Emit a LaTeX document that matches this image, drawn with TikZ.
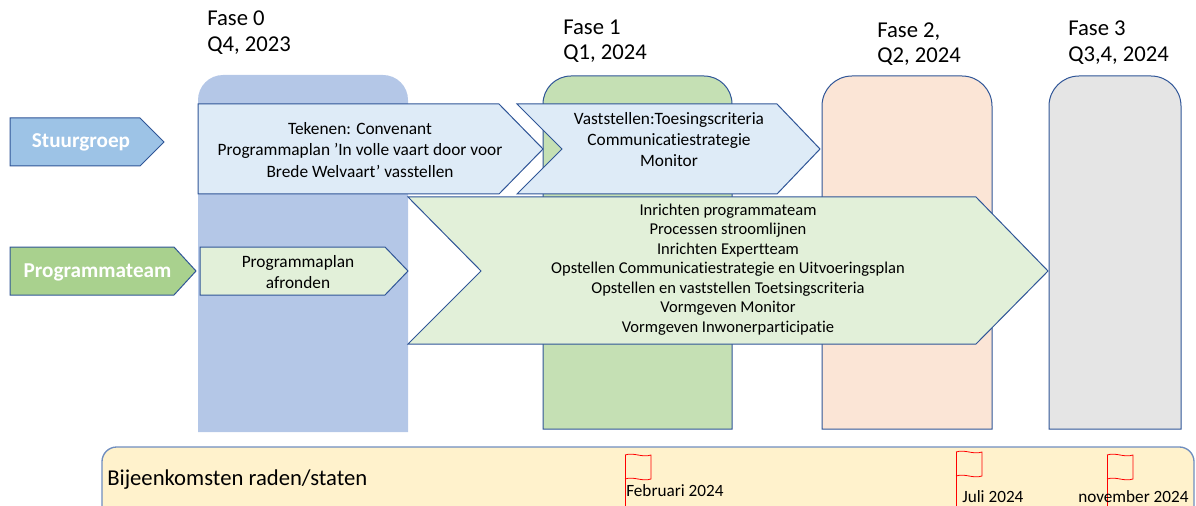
\documentclass[tikz,border=0pt]{standalone}
\usepackage{fontspec}
\setmainfont{Carlito}[Ligatures=NoCommon]
\definecolor{colzero}{HTML}{B4C7E7}
\definecolor{colone}{HTML}{C5E0B4}
\definecolor{coltwo}{HTML}{FBE5D6}
\definecolor{colthree}{HTML}{E5E5E5}
\definecolor{edgeblue}{HTML}{2F5597}
\definecolor{stuurfill}{HTML}{9DC3E6}
\definecolor{lightblue}{HTML}{DEEBF7}
\definecolor{progfill}{HTML}{A9D18E}
\definecolor{lightgreen}{HTML}{E2F0D9}
\definecolor{botfill}{HTML}{FFF2CC}
\definecolor{botedge}{HTML}{6F8DBF}
\definecolor{flagred}{HTML}{FF0000}
\begin{document}
\begin{tikzpicture}[x=0.75pt,y=-0.75pt,
  shapeline/.style={draw=edgeblue,line width=0.75pt,line join=miter},
  title/.style={font=\fontsize{17}{20}\selectfont,anchor=base west,inner sep=0pt},
  headlbl/.style={font=\fontsize{15.9}{18}\selectfont\bfseries,text=white,inner sep=0pt},
  midtxt/.style={font=\fontsize{13}{15.9}\selectfont,align=center,inner sep=0pt},
  bigtxt/.style={font=\fontsize{12.4}{14.6}\selectfont,align=center,inner sep=0pt},
  flagtxt/.style={font=\fontsize{12.9}{15}\selectfont,anchor=base west,inner sep=0pt},
  flagline/.style={draw=flagred,line width=0.6pt},
  redflag/.pic={
    \draw[flagline] (0,0) .. controls (9,-3) and (17,3) .. (26,0) -- (26,24)
       .. controls (17,27) and (9,21) .. (0,24);
    \draw[flagline] (0,0) -- (0,80);
  }]
\useasboundingbox (0,0) rectangle (1196,506);
\clip (0,0) rectangle (1196,506);

% phase columns
\fill[colzero] (198,432) -- (198,100) arc[start angle=180,end angle=270,radius=25]
  -- (383,75) arc[start angle=270,end angle=360,radius=25] -- (408,432) -- cycle;
\filldraw[shapeline,fill=colone] (543,429) -- (543,104) arc[start angle=180,end angle=270,radius=28]
  -- (704,76) arc[start angle=270,end angle=360,radius=28] -- (732,429) -- cycle;
\filldraw[shapeline,fill=coltwo] (822,429) -- (822,106) arc[start angle=180,end angle=270,radius=30]
  -- (962,76) arc[start angle=270,end angle=360,radius=30] -- (992,429) -- cycle;
\filldraw[shapeline,fill=colthree] (1049,429) -- (1049,106) arc[start angle=180,end angle=270,radius=30]
  -- (1151,76) arc[start angle=270,end angle=360,radius=30] -- (1181,429) -- cycle;

% phase titles
\node[title] (f0a) at (207,26) {Fase 0};
\node[title] (f0b) at (207,52) {Q4, 2023};
\node[title] (f1a) at (563,34.5) {Fase 1};
\node[title] (f1b) at (563,60) {Q1, 2024};
\node[title] (f2a) at (877,38) {Fase 2,};
\node[title] (f2b) at (877,63) {Q2, 2024};
\node[title] (f3a) at (1068,36) {Fase 3};
\node[title] (f3b) at (1068,62) {Q3,4, 2024};

% Stuurgroep row
\filldraw[shapeline,fill=stuurfill] (10,118) -- (140,118) -- (164,142) -- (140,166) -- (10,166) -- cycle;
\node[headlbl] (stuur) at (81,142) {Stuurgroep};
\filldraw[shapeline,fill=lightblue] (198,104) -- (499,104) -- (543,149) -- (499,194) -- (198,194) -- cycle;
\node[midtxt] (tek) at (360,150) {Tekenen: Convenant\\Programmaplan ’In volle vaart door voor\\Brede Welvaart’ vasstellen};
\filldraw[shapeline,fill=lightblue] (517,104) -- (777,104) -- (820,149) -- (777,194) -- (517,194) -- (562,149) -- cycle;
\node[midtxt] (vast) at (669,139.5) {Vaststellen:Toesingscriteria\\Communicatiestrategie\\Monitor};

% Programmateam row
\filldraw[shapeline,fill=progfill] (10,247) -- (174,247) -- (196,271) -- (174,295) -- (10,295) -- cycle;
\node[headlbl] (prog) at (97.5,272) {Programmateam};
\filldraw[shapeline,fill=lightgreen] (200,247) -- (385,247) -- (408,271) -- (385,295) -- (200,295) -- cycle;
\node[midtxt] (afr) at (298,272) {Programmaplan\\afronden};
\filldraw[shapeline,fill=lightgreen] (408,197) -- (976,197) -- (1048,271) -- (976,344) -- (408,344) -- (481,271) -- cycle;
\node[bigtxt] (acts) at (728,269.5) {Inrichten programmateam\\Processen stroomlijnen\\Inrichten Expertteam\\Opstellen Communicatiestrategie en Uitvoeringsplan\\Opstellen en vaststellen Toetsingscriteria\\Vormgeven Monitor\\Vormgeven Inwonerparticipatie};

% bottom band
\filldraw[draw=botedge,line width=1pt,fill=botfill,rounded corners=11pt] (102,447) rectangle (1194,540);
\node[title] (bij) at (107,485) {Bijeenkomsten raden/staten};

% flags
\pic at (625,455) {redflag};
\pic at (956,452) {redflag};
\pic at (1107,455) {redflag};
\node[flagtxt] (feb) at (626,496) {Februari 2024};
\node[flagtxt] (jul) at (962,502) {Juli 2024};
\node[flagtxt] (nov) at (1078,502) {november 2024};
\end{tikzpicture}
\end{document}
